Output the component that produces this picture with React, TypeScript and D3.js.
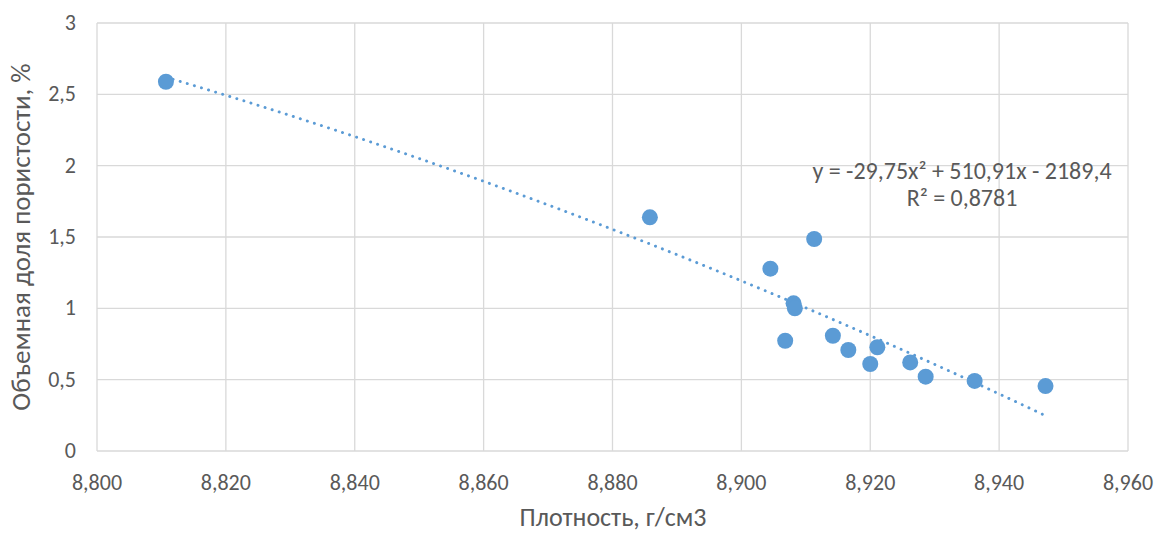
import React from "react";
import * as d3 from "d3";

const density = [8.8107, 8.8858, 8.9045, 8.9113, 8.9081, 8.9083, 8.9068, 8.9142, 8.9166, 8.9211, 8.92, 8.9262, 8.9286, 8.9362, 8.9472];
const porosity = [2.588, 1.638, 1.278, 1.486, 1.035, 1.0, 0.773, 0.808, 0.708, 0.727, 0.61, 0.621, 0.521, 0.491, 0.455];
const xTicks = [8.8, 8.82, 8.84, 8.86, 8.88, 8.9, 8.92, 8.94, 8.96];
const yTicks = [0, 0.5, 1, 1.5, 2, 2.5, 3];
const equationText = "y = -29,75x² + 510,91x - 2189,4";
const r2Text = "R² = 0,8781";
const xTitle = "Плотность, г/см3";
const yTitle = "Объемная доля пористости, %";

function fitQuadratic(xs: number[], ys: number[]) {
  const mx = d3.mean(xs) as number;
  const u = xs.map((x) => x - mx);
  const n = xs.length;
  let s0 = n, s1 = 0, s2 = 0, s3 = 0, s4 = 0, t0 = 0, t1 = 0, t2 = 0;
  u.forEach((v, i) => {
    s1 += v; s2 += v * v; s3 += v * v * v; s4 += v * v * v * v;
    t0 += ys[i]; t1 += v * ys[i]; t2 += v * v * ys[i];
  });
  const A = [[s4, s3, s2], [s3, s2, s1], [s2, s1, s0]];
  const B = [t2, t1, t0];
  const det = (m: number[][]) =>
    m[0][0] * (m[1][1] * m[2][2] - m[1][2] * m[2][1]) -
    m[0][1] * (m[1][0] * m[2][2] - m[1][2] * m[2][0]) +
    m[0][2] * (m[1][0] * m[2][1] - m[1][1] * m[2][0]);
  const D = det(A);
  const col = (k: number) => A.map((row, i) => row.map((v, j) => (j === k ? B[i] : v)));
  const a = det(col(0)) / D, b = det(col(1)) / D, c = det(col(2)) / D;
  return (x: number) => { const v = x - mx; return a * v * v + b * v + c; };
}

export default function App() {
  const W = 1160, H = 534;
  const x = d3.scaleLinear().domain([8.8, 8.96]).range([97, 1128]);
  const y = d3.scaleLinear().domain([0, 3]).range([451, 23]);
  const f = fitQuadratic(density, porosity);
  const [x0, x1] = d3.extent(density) as [number, number];
  const pts = d3.range(0, 101).map((i) => x0 + ((x1 - x0) * i) / 100);
  const line = d3.line<number>().x((d) => x(d)).y((d) => y(f(d)));
  const fmtX = (v: number) => v.toFixed(3).replace(".", ",");
  const fmtY = (v: number) => String(v).replace(".", ",");
  const font = "Carlito, Calibri, 'Liberation Sans', sans-serif";
  return (
    <svg width={W} height={H} style={{ position: "absolute", left: 0, top: 0, background: "#fff" }} fontFamily={font}>
      <rect x={0} y={0} width={W} height={H} fill="#fff" />
      {xTicks.map((t) => (
        <line key={"gx" + t} x1={x(t)} x2={x(t)} y1={y(3)} y2={y(0)} stroke="#d9d9d9" strokeWidth={1.3} />
      ))}
      {yTicks.map((t) => (
        <line key={"gy" + t} x1={x(8.8)} x2={x(8.96)} y1={y(t)} y2={y(t)} stroke="#d9d9d9" strokeWidth={1.3} />
      ))}
      {yTicks.map((t) => (
        <text key={"ty" + t} x={76} y={y(t) + 7} textAnchor="end" fontSize={22} fill="#595959">{fmtY(t)}</text>
      ))}
      {xTicks.map((t) => (
        <text key={"tx" + t} x={x(t)} y={490} textAnchor="middle" fontSize={22} fill="#595959">{fmtX(t)}</text>
      ))}
      <path d={line(pts) || ""} fill="none" stroke="#5b9bd5" strokeWidth={2.9} strokeLinecap="round" strokeDasharray="0.1 7.3" />
      {density.map((d, i) => (
        <circle key={"p" + i} cx={x(d)} cy={y(porosity[i])} r={8} fill="#5b9bd5" />
      ))}
      <text x={962} y={179} textAnchor="middle" fontSize={24} fill="#595959">{equationText}</text>
      <text x={962} y={206} textAnchor="middle" fontSize={24} fill="#595959">{r2Text}</text>
      <text x={613} y={526} textAnchor="middle" fontSize={26} fill="#595959">{xTitle}</text>
      <text transform={`translate(30,237) rotate(-90)`} textAnchor="middle" fontSize={27} fill="#595959">{yTitle}</text>
    </svg>
  );
}
